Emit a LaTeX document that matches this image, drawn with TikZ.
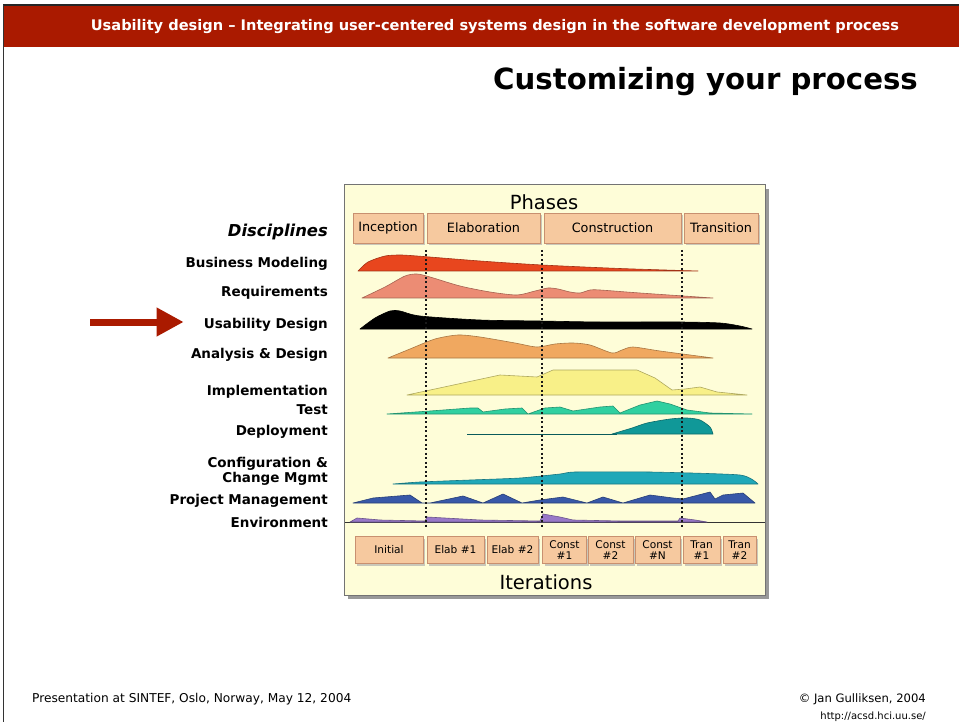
\documentclass[tikz,border=0pt]{standalone}
\usepackage{fontspec}
\setmainfont{DejaVu Sans}
\usetikzlibrary{arrows.meta,shadows}
\definecolor{hdr}{HTML}{AA1A00}
\definecolor{chartbg}{HTML}{FEFDD8}
\definecolor{boxfill}{HTML}{F6C99F}
\definecolor{boxline}{HTML}{C89070}
\definecolor{cBM}{HTML}{E8461E}
\definecolor{cRQ}{HTML}{EC8C74}
\definecolor{cAD}{HTML}{F0A860}
\definecolor{cIM}{HTML}{F8F088}
\definecolor{cTE}{HTML}{30D0A0}
\definecolor{cDE}{HTML}{109898}
\definecolor{cCM}{HTML}{20A8B8}
\definecolor{cPM}{HTML}{3858A8}
\definecolor{cEN}{HTML}{9878C8}
\tikzset{
  disc/.style={anchor=east, inner sep=0pt, yshift=-1.5pt, font=\fontsize{13.5}{15}\selectfont\bfseries},
  phasebox/.style={draw=boxline, fill=boxfill, line width=0.8pt, minimum height=30pt, inner sep=0pt,
     drop shadow={shadow xshift=2pt, shadow yshift=-2pt, fill=black!35, opacity=0.6},
     font=\fontsize{12.8}{14}\selectfont},
  iterbox/.style={draw=boxline, fill=boxfill, line width=0.8pt, minimum height=27pt, inner sep=0pt,
     drop shadow={shadow xshift=2pt, shadow yshift=-2pt, fill=black!35, opacity=0.6},
     font=\fontsize{10.6}{11.5}\selectfont, align=center},
  hump/.style={draw=#1!70!black, fill=#1, line width=0.6pt, line join=round},
  dotline/.style={line width=2pt, dash pattern=on 2pt off 2.5pt, black!90},
}
\begin{document}
\begin{tikzpicture}[x=1pt,y=-1pt]
\useasboundingbox (0,0) rectangle (959,722);
\fill[white] (0,0) rectangle (959,722);
% header
\fill[hdr] (3,5) rectangle (959,47);
\draw[black!85, line width=1.2pt] (3,5) -- (959,5);
\draw[black!80, line width=1.3pt] (3.5,5) -- (3.5,722);
\node[text=white, font=\fontsize{14.6}{16}\selectfont\bfseries] (hdrtxt) at (495,27) {Usability design – Integrating user-centered systems design in the software development process};
\node[anchor=east, inner sep=0pt, font=\fontsize{29.2}{32}\selectfont\bfseries] (title) at (918,82) {Customizing your process};
% chart box
\fill[black!40] (348,189) rectangle (769,599);
\draw[black!55, fill=chartbg, line width=1pt] (344,185) rectangle (765,595);
\node[font=\fontsize{19.5}{21}\selectfont] (phases) at (544,202) {Phases};
\node[font=\fontsize{19.5}{21}\selectfont] (iters) at (546,582) {Iterations};
% phase boxes
\node[phasebox, minimum width=70pt] (inc) at (388,228) {Inception};
\node[phasebox, minimum width=113pt] (ela) at (483.5,228) {Elaboration};
\node[phasebox, minimum width=137pt] (con) at (612.5,228) {Construction};
\node[phasebox, minimum width=74pt] (tra) at (721,228) {Transition};
% iteration boxes
\node[iterbox, minimum width=68pt] (it1) at (389,550) {Initial};
\node[iterbox, minimum width=57pt] (it2) at (455.5,550) {Elab \#1};
\node[iterbox, minimum width=51pt] (it3) at (512.5,550) {Elab \#2};
\node[iterbox, minimum width=44pt] (it4) at (564.5,550) {Const\\\#1};
\node[iterbox, minimum width=45pt] (it5) at (610.5,550) {Const\\\#2};
\node[iterbox, minimum width=45pt] (it6) at (657.5,550) {Const\\\#N};
\node[iterbox, minimum width=37pt] (it7) at (701.5,550) {Tran\\\#1};
\node[iterbox, minimum width=33pt] (it8) at (739.5,550) {Tran\\\#2};
% humps
\draw[black!80, line width=0.8pt] (345,522) -- (765,522);
\filldraw[hump=cBM] plot[smooth,tension=.45] coordinates {(358,271) (368,262) (385,256) (400,255) (417,256) (480,261) (542,265) (620,268.5) (698,271)} -- cycle;
\filldraw[hump=cRQ] plot[smooth,tension=.45] coordinates {(362,298) (385,287) (405,276) (417,274) (430,277) (460,286) (490,292) (517,295) (535,291) (548,288) (558,289) (570,292) (580,293) (590,290) (600,290) (640,293) (713,298)} -- cycle;
\filldraw[hump=black] plot[smooth,tension=.45] coordinates {(360,329) (375,318) (390,311) (400,311) (420,316) (480,320) (540,321) (600,322) (680,322) (720,323) (740,326) (752,329)} -- cycle;
\filldraw[hump=cAD] plot[smooth,tension=.45] coordinates {(388,358) (410,349) (435,339) (458,335) (480,337) (515,343) (537,347) (555,344) (573,343) (590,345) (612,353) (622,350) (633,347) (660,351) (713,358)} -- cycle;
\filldraw[hump=cIM] (407,395) -- (500,375) -- (537,377) -- (553,370) -- (637,370) -- (655,378) -- (672,390) -- (685,389) -- (700,387) -- (717,392) -- (747,395) -- cycle;
\filldraw[hump=cTE] (387,414) -- (430,411) -- (470,408) -- (478,408) -- (483,412) -- (505,409) -- (522,408) -- (528,414) -- (545,408) -- (560,407) -- (573,411) -- (600,407) -- (613,406) -- (620,413) -- (640,405) -- (657,401) -- (670,404) -- (687,410) -- (710,413) -- (752,414) -- cycle;
\draw[cDE!60!black, line width=0.8pt] (467,434) -- (617,434);
\filldraw[hump=cDE] plot[smooth,tension=.45] coordinates {(612,434) (632,428) (647,423) (670,419) (687,418) (700,420) (710,427) (713,434)} -- cycle;
\filldraw[hump=cCM] plot[smooth,tension=.35] coordinates {(393,484) (420,482) (470,480) (520,478) (560,474) (575,472) (650,472) (740,475) (758,484)} -- cycle;
\filldraw[hump=cPM] (353,503) -- (373,498) -- (410,495) -- (422,503) -- (430,503) -- (463,496) -- (483,503) -- (503,494) -- (522,503) -- (540,500) -- (563,497) -- (587,503) -- (603,497) -- (623,503) -- (650,495) -- (673,498) -- (683,499) -- (710,492) -- (715,499) -- (723,495) -- (743,493) -- (755,503) -- cycle;
\filldraw[hump=cEN] (350,522) -- (357,518) -- (380,520) -- (425,521) -- (427,517) -- (480,520) -- (540,521) -- (543,514) -- (560,517) -- (573,520) -- (620,521) -- (678,521) -- (680,518) -- (695,520) -- (707,522) -- cycle;
% dotted phase separators
\draw[dotline] (426,250) -- (426,528);
\draw[dotline] (542,250) -- (542,528);
\draw[dotline] (682,250) -- (682,528);
% discipline labels
\node[anchor=east, inner sep=0pt, yshift=-1.5pt, font=\fontsize{16.4}{18}\selectfont\bfseries\itshape] (dl) at (328,230) {Disciplines};
\node[disc] (bm) at (328,262) {Business Modeling};
\node[disc] (rq) at (328,291) {Requirements};
\node[disc] (ud) at (328,323) {Usability Design};
\node[disc] (ad) at (328,353) {Analysis \& Design};
\node[disc] (im) at (328,390) {Implementation};
\node[disc] (te) at (328,408) {Test};
\node[disc] (de) at (328,430) {Deployment};
\node[disc] (cm1) at (328,462) {Configuration \&};
\node[disc] (cm2) at (328,477) {Change Mgmt};
\node[disc] (pm) at (328,499) {Project Management};
\node[disc] (en) at (328,521) {Environment};
% arrow
\coordinate (arrtail) at (90,322);
\draw[hdr, line width=7pt, -{Triangle[length=27pt,width=27pt]}, shorten >=20pt] (arrtail) -- (ud.west |- arrtail);
% footer
\node[anchor=west, inner sep=0pt, font=\fontsize{12.2}{13}\selectfont] (foot1) at (32,699) {Presentation at SINTEF, Oslo, Norway, May 12, 2004};
\node[anchor=east, inner sep=0pt, font=\fontsize{11.6}{13}\selectfont] (foot2) at (926,699) {© Jan Gulliksen, 2004};
\node[anchor=east, inner sep=0pt, font=\fontsize{10}{11}\selectfont] (foot3) at (926,717) {http://acsd.hci.uu.se/};
\end{tikzpicture}
\end{document}
